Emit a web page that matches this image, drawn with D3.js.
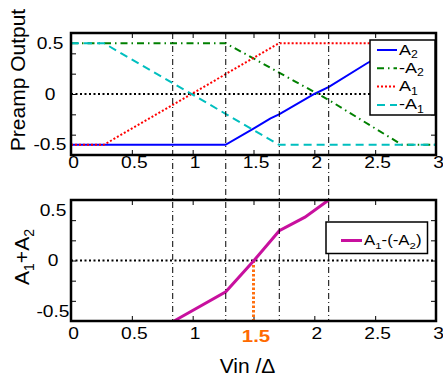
<!DOCTYPE html>
<html><head><meta charset="utf-8">
<script src="https://cdn.jsdelivr.net/npm/d3@7"></script>
<style>
body{margin:0;background:#fff}
svg{display:block}
text{font-family:"Liberation Sans",Arial,Helvetica,sans-serif;fill:#000}
</style></head>
<body><svg id="c" width="443" height="377"></svg>
<script>
// ---- data ----
const xTickVals = [0, 0.5, 1, 1.5, 2, 2.5, 3];
const xTickLabels = ["0", "0.5", "1", "1.5", "2", "2.5", "3"];
const yMinorTicks = [-0.6, -0.4, -0.2, 0, 0.2, 0.4, 0.6];
const yLabelVals = [-0.5, 0, 0.5];
const yLabelText = ["-0.5", "0", "0.5"];
const markerX = [0.836, 1.272, 1.712, 2.118];
const highlightX = 1.5;

const a2X  = [0, 1.27, 1.5, 1.64, 1.71, 2.0, 2.12, 2.43, 2.72, 3];
const a2Y  = [-0.5, -0.5, -0.34, -0.24, -0.2, 0, 0.07, 0.3, 0.5, 0.5];
const na2X = [0, 1.27, 1.5, 1.71, 2.03, 2.12, 2.72, 3];
const na2Y = [0.5, 0.5, 0.35, 0.21, 0, -0.06, -0.5, -0.5];
const a1X  = [0, 0.27, 1.71, 3];
const a1Y  = [-0.5, -0.5, 0.5, 0.5];
const na1X = [0, 0.27, 1.71, 3];
const na1Y = [0.5, 0.5, -0.5, -0.5];
const sumX = [0.836, 1.272, 1.504, 1.712, 1.923, 2.118];
const sumY = [-0.607, -0.31, 0, 0.295, 0.43, 0.6];

const topSeries = [
  {name:"A2", sign:"", sub:"2", xs:a2X, ys:a2Y, color:"#0000ff", dash:null},
  {name:"-A2", sign:"-", sub:"2", xs:na2X, ys:na2Y, color:"#008000", dash:"7,4,1.5,4"},
  {name:"A1", sign:"", sub:"1", xs:a1X, ys:a1Y, color:"#ff0000", dash:"2,2"},
  {name:"-A1", sign:"-", sub:"1", xs:na1X, ys:na1Y, color:"#00bfbf", dash:"8,5"}
];

// ---- layout ----
const svg = d3.select("#c");
const SX = 1.2; // horizontal stretch of small text
const L = 71, R = 436;
const top1 = 33, bot1 = 155, top2 = 200, bot2 = 321;
const x = d3.scaleLinear().domain([0, 3]).range([L, R]);
const y1 = d3.scaleLinear().domain([-0.6, 0.6]).range([bot1, top1]);
const y2 = d3.scaleLinear().domain([-0.6, 0.6]).range([bot2, top2]);

const defs = svg.append("defs");
defs.append("clipPath").attr("id","cp1").append("rect").attr("x",L).attr("y",top1).attr("width",R-L).attr("height",bot1-top1);
defs.append("clipPath").attr("id","cp2").append("rect").attr("x",L).attr("y",top2).attr("width",R-L).attr("height",bot2-top2);

function axes(yS, yTop, yBot, labelX, xLabDy) {
  const gb = svg.append("g").attr("transform",`translate(0,${yBot})`)
    .call(d3.axisBottom(x).tickValues(xTickVals).tickSize(-5).tickPadding(xLabDy)
      .tickFormat((d,i)=>xTickLabels[i]));
  gb.select(".domain").remove();
  gb.selectAll("text").attr("font-size",16).attr("transform",`scale(${SX},1)`).attr("x",2/SX)
    .style("font-family",'"Liberation Sans",Arial,sans-serif');
  const gt = svg.append("g").attr("transform",`translate(0,${yTop})`)
    .call(d3.axisTop(x).tickValues(xTickVals).tickSize(-5).tickFormat(""));
  gt.select(".domain").remove();
  const gl = svg.append("g").attr("transform",`translate(${L},0)`)
    .call(d3.axisLeft(yS).tickValues(yMinorTicks).tickSize(-5).tickFormat(""));
  gl.select(".domain").remove();
  const gr = svg.append("g").attr("transform",`translate(${R},0)`)
    .call(d3.axisRight(yS).tickValues(yMinorTicks).tickSize(-5).tickFormat(""));
  gr.select(".domain").remove();
  const gy = svg.append("g").attr("transform",`translate(${L},0)`)
    .call(d3.axisLeft(yS).tickValues(yLabelVals).tickSize(0).tickFormat((d,i)=>yLabelText[i]));
  gy.select(".domain").remove();
  gy.selectAll("line").remove();
  gy.selectAll("text").attr("font-size",16).attr("text-anchor","middle")
    .attr("x",(labelX-L)/SX).attr("transform",`scale(${SX},1)`)
    .style("font-family",'"Liberation Sans",Arial,sans-serif');
  svg.selectAll(".tick line").attr("stroke","#000").attr("stroke-width",1);
  return gb;
}

// ---- top plot ----
axes(y1, top1, bot1, 50, 2);
const g1 = svg.append("g").attr("clip-path","url(#cp1)");
g1.append("line").attr("x1",L).attr("x2",R).attr("y1",y1(0)).attr("y2",y1(0))
  .attr("stroke","#000").attr("stroke-width",2).attr("stroke-dasharray","2,2.5");
const line1 = d3.line().x(d=>x(d[0])).y(d=>y1(d[1]));
topSeries.forEach(s=>{
  g1.append("path").datum(s.xs.map((v,i)=>[v,s.ys[i]])).attr("d",line1)
    .attr("fill","none").attr("stroke",s.color).attr("stroke-width",2)
    .attr("stroke-dasharray",s.dash);
});

// ---- bottom plot ----
const gb2 = axes(y2, top2, bot2, 53, 7);
gb2.selectAll(".tick").filter(d=>d===highlightX).select("text")
  .attr("font-size",17).style("fill","#ff6a00").attr("font-weight","bold").attr("dy","0.85em");
const g2 = svg.append("g").attr("clip-path","url(#cp2)");
g2.append("line").attr("x1",L).attr("x2",R).attr("y1",y2(0)).attr("y2",y2(0))
  .attr("stroke","#000").attr("stroke-width",2).attr("stroke-dasharray","2,2.5");
g2.append("line").attr("x1",x(highlightX)).attr("x2",x(highlightX)).attr("y1",y2(0)).attr("y2",bot2)
  .attr("stroke","#ff7010").attr("stroke-width",3).attr("stroke-dasharray","2.5,2");
const line2 = d3.line().x(d=>x(d[0])).y(d=>y2(d[1]));
g2.append("path").datum(sumX.map((v,i)=>[v,sumY[i]])).attr("d",line2)
  .attr("fill","none").attr("stroke","#c8109e").attr("stroke-width",3);

// ---- vertical dash-dot markers ----
svg.append("g").selectAll("line").data(markerX).join("line")
  .attr("x1",d=>x(d)).attr("x2",d=>x(d)).attr("y1",top1).attr("y2",bot2)
  .attr("stroke","#000").attr("stroke-width",1).attr("stroke-dasharray","6,3,1,3");

// ---- frames ----
[[top1,bot1],[top2,bot2]].forEach(([t,b])=>{
  svg.append("rect").attr("x",L).attr("y",t).attr("width",R-L).attr("height",b-t)
    .attr("fill","none").attr("stroke","#000").attr("stroke-width",2.5);
});

// ---- legends ----
function stretchedText(g, px, py, parts, size) {
  const t = g.append("text").attr("transform",`translate(${px},${py}) scale(${SX},1)`)
    .attr("font-size",size);
  parts.forEach(p=>{
    if (p.sub) t.append("tspan").attr("font-size",size*0.68).attr("dy",3.5).text(p.t);
    else t.append("tspan").attr("dy",p.up? -3.5:0).text(p.t);
  });
  return t;
}
const lg = svg.append("g");
lg.append("rect").attr("x",370).attr("y",40).attr("width",65).attr("height",75)
  .attr("fill","#fff").attr("stroke","#000").attr("stroke-width",1.5);
topSeries.forEach((s,i)=>{
  const yy = 50 + i*18.3;
  lg.append("line").attr("x1",377).attr("x2",397).attr("y1",yy).attr("y2",yy)
    .attr("stroke",s.color).attr("stroke-width",2).attr("stroke-dasharray",s.dash);
  stretchedText(lg, 399, yy+4.5, [{t:s.sign+"A"},{t:s.sub,sub:true}], 15);
});
const lg2 = svg.append("g");
lg2.append("rect").attr("x",326).attr("y",222).attr("width",101.5).attr("height",31.5)
  .attr("fill","#fff").attr("stroke","#000").attr("stroke-width",1.5);
lg2.append("line").attr("x1",341).attr("x2",362).attr("y1",240.5).attr("y2",240.5)
  .attr("stroke","#c8109e").attr("stroke-width",3);
stretchedText(lg2, 364, 245, [{t:"A"},{t:"1",sub:true},{t:"-(-A",up:true},{t:"2",sub:true},{t:")",up:true}], 14);

// ---- axis titles ----
svg.append("text").attr("transform","translate(25,80) rotate(-90)")
  .attr("text-anchor","middle").attr("font-size",21).text("Preamp Output");
const t2 = svg.append("text").attr("transform","translate(29,257) rotate(-90)")
  .attr("text-anchor","middle").attr("font-size",21);
t2.append("tspan").text("A");
t2.append("tspan").attr("font-size",14).attr("dy",5).text("1");
t2.append("tspan").attr("dy",-5).text("+A");
t2.append("tspan").attr("font-size",14).attr("dy",5).text("2");
svg.append("text").attr("x",247.5).attr("y",373).attr("text-anchor","middle")
  .attr("font-size",21).text("Vin /\u0394");
</script></body></html>
